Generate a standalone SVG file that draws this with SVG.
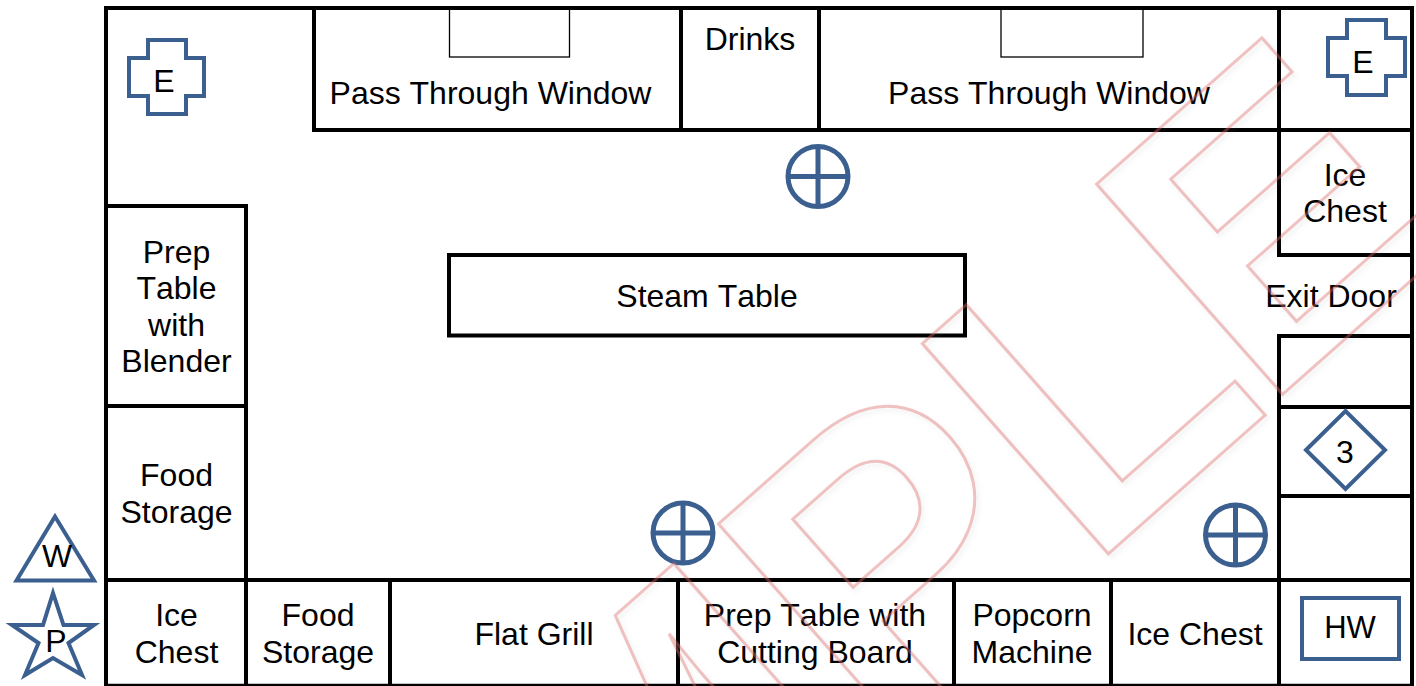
<svg xmlns="http://www.w3.org/2000/svg" width="1416" height="686" viewBox="0 0 1416 686">
  <style>
    .wall { fill: none; stroke: #000; stroke-width: 4; stroke-linecap: square; }
    .thin { fill: none; stroke: #000; stroke-width: 1.3; }
    .sym { fill: none; stroke: #3B5F8F; stroke-width: 4; stroke-linejoin: miter; }
    .fix { fill: none; stroke: #3B5F8F; stroke-width: 5; }
    text { font-family: "Liberation Sans", Arial, sans-serif; font-size: 32px; font-kerning: none; fill: #000; text-anchor: middle; }
    .wm { font-family: "Liberation Sans", Arial, sans-serif; font-weight: bold; font-size: 408px; font-kerning: none; fill: none; stroke: #DC6A68; stroke-opacity: 0.4; stroke-width: 3; text-anchor: start; }
  </style>
  <defs>
    <filter id="shadow" filterUnits="userSpaceOnUse" x="0" y="0" width="1416" height="686">
      <feDropShadow dx="2.5" dy="3" stdDeviation="2" flood-color="#888" flood-opacity="0.3"/>
    </filter>
    <g id="floor-outlet">
      <circle cx="0" cy="0" r="30" class="fix"/>
      <path d="M-30 0H30M0 -30V30" class="fix"/>
    </g>
  </defs>
  <rect width="1416" height="686" fill="#fff"/>

  <g id="walls">
    <path class="wall" d="M106 8H1412V684M106 8V684"/>
    <path class="wall" style="stroke-width:2.5" d="M106 685H1412"/>
    <path class="wall" d="M314 8V130H1412M681 8V130M819 8V130M1279 8V255H1412"/>
    <path class="wall" d="M106 206H246V684M106 406H246M106 580H1412"/>
    <path class="wall" d="M390 580V684M678 580V684M954 580V684M1111 580V684"/>
    <path class="wall" d="M1279 336H1412M1279 336V684M1279 407H1412M1279 496H1412"/>
  </g>

  <g id="pass-window-1">
    <rect class="thin" x="449.5" y="8" width="120" height="49"/>
    <text x="490.5" y="104">Pass Through Window</text>
  </g>
  <g id="drinks"><text x="750" y="50">Drinks</text></g>
  <g id="pass-window-2">
    <rect class="thin" x="1001" y="8" width="142" height="49"/>
    <text x="1049" y="104">Pass Through Window</text>
  </g>
  <g id="ice-chest-right"><text x="1345" y="186">Ice</text><text x="1345" y="222">Chest</text></g>
  <g id="exit-door"><text x="1331" y="307">Exit Door</text></g>
  <g id="steam-table">
    <rect class="wall" x="449" y="255" width="516" height="80.5"/>
    <text x="707" y="307">Steam Table</text>
  </g>
  <g id="prep-table-blender">
    <text x="176.5" y="263">Prep</text><text x="176.5" y="299">Table</text><text x="176.5" y="336">with</text><text x="176.5" y="372">Blender</text>
  </g>
  <g id="food-storage-left"><text x="176.5" y="486">Food</text><text x="176.5" y="523">Storage</text></g>
  <g id="ice-chest-1"><text x="176.5" y="626">Ice</text><text x="176.5" y="663">Chest</text></g>
  <g id="food-storage-2"><text x="318" y="626">Food</text><text x="318" y="663">Storage</text></g>
  <g id="flat-grill"><text x="534" y="645">Flat Grill</text></g>
  <g id="prep-table-cutting"><text x="815" y="626">Prep Table with</text><text x="815" y="663">Cutting Board</text></g>
  <g id="popcorn-machine"><text x="1032" y="626">Popcorn</text><text x="1032" y="663">Machine</text></g>
  <g id="ice-chest-2"><text x="1195" y="645">Ice Chest</text></g>

  <g id="exit-marker-left">
    <polygon class="sym" points="148,40 186,40 186,58 204,58 204,96 186,96 186,114 148,114 148,96 129,96 129,58 148,58"/>
    <text x="164" y="92">E</text>
  </g>
  <g id="exit-marker-right">
    <polygon class="sym" points="1347,20 1386,20 1386,38 1405,38 1405,76 1386,76 1386,95 1347,95 1347,76 1328,76 1328,38 1347,38"/>
    <text x="1363" y="73">E</text>
  </g>
  <g id="outlet-top"><use href="#floor-outlet" x="818" y="176.5"/></g>
  <g id="outlet-mid"><use href="#floor-outlet" x="683" y="533"/></g>
  <g id="outlet-right"><use href="#floor-outlet" x="1235.5" y="535"/></g>
  <g id="marker-3">
    <polygon class="sym" points="1306,450 1345.5,411 1385,450 1345.5,489"/>
    <text x="1345" y="463">3</text>
  </g>
  <g id="hot-water">
    <rect class="sym" x="1302" y="598" width="97" height="61"/>
    <text x="1350" y="638" style="font-size:31px">HW</text>
  </g>
  <g id="water-marker">
    <polygon class="sym" points="55,516.5 16.5,580.5 94,580.5"/>
    <text x="57" y="567">W</text>
  </g>
  <g id="power-marker">
    <polygon class="sym" points="53,593 63.5,625 94,625 68.5,643 82,675 53,658 25,675 38.5,643 12,625 43,625"/>
    <text x="56" y="652">P</text>
  </g>

  <g id="watermark" filter="url(#shadow)">
    <text class="wm" transform="translate(205 1353) rotate(-41.5)">SA<tspan dx="-5">M</tspan><tspan dx="5">PL</tspan><tspan dx="-13" dy="-4">E</tspan></text>
  </g>
</svg>
